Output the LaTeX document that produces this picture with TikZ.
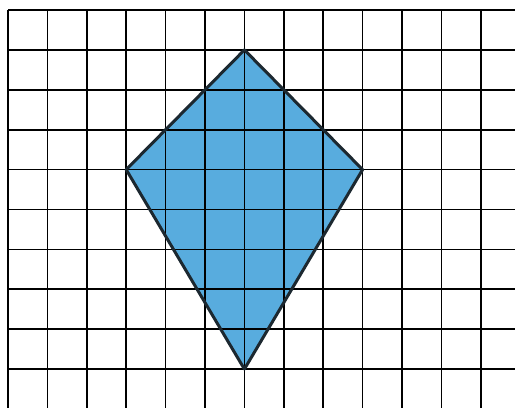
\documentclass[tikz,border=0pt]{standalone}
\definecolor{kitefill}{RGB}{88,172,222}
\definecolor{kiteedge}{RGB}{28,40,48}
\tikzset{
  gridline/.style={line width=1.7pt, black},
  kiteshape/.style={fill=kitefill, draw=kiteedge, line width=3pt, line join=round},
}
\begin{document}
\begin{tikzpicture}[x=1pt,y=-1pt]
\useasboundingbox (0,0) rectangle (515,408);
\fill[white] (0,0) rectangle (515,408);
% kite vertices (grid points)
\coordinate (T) at (244.4,49.9);
\coordinate (L) at (126.2,169.6);
\coordinate (R) at (362.6,169.6);
\coordinate (B) at (244.4,369.1);
\fill[kitefill] (T) -- (R) -- (B) -- (L) -- cycle;
% grid
\foreach \k in {0,...,12} {
  \draw[gridline] ({8+39.4*\k},10) -- ({8+39.4*\k},408);
}
\foreach \k in {0,...,9} {
  \draw[gridline] (8,{10+39.9*\k}) -- (515,{10+39.9*\k});
}
\draw[kiteshape, fill=none] (T) -- (R) -- (B) -- (L) -- cycle;
\end{tikzpicture}
\end{document}
